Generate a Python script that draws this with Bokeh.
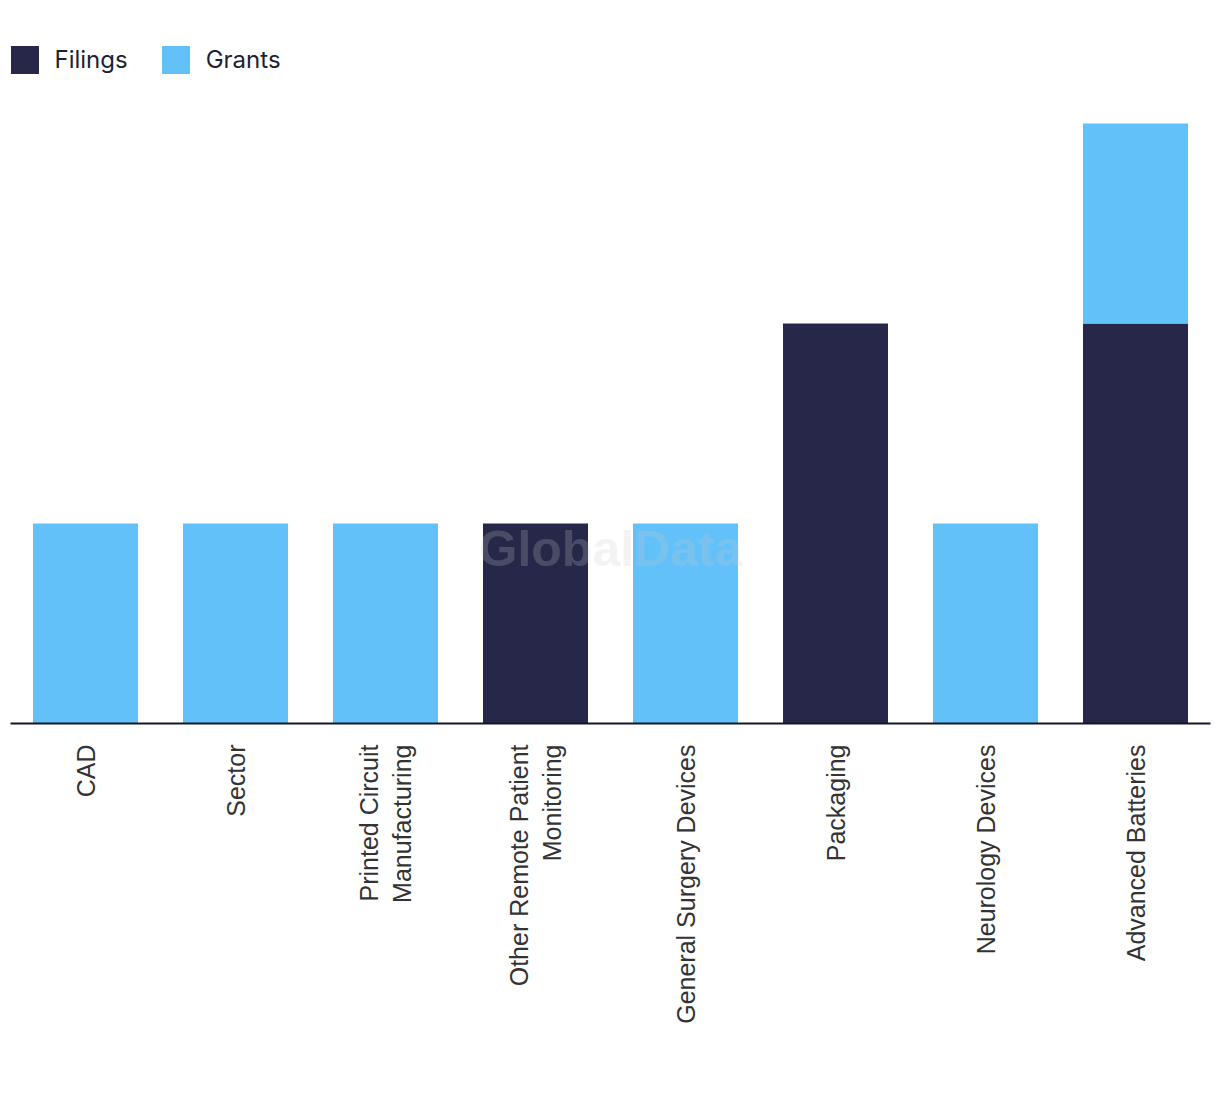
from bokeh.plotting import figure
from bokeh.models import ColumnDataSource, Label, FactorRange
from bokeh.embed import file_html
from bokeh.resources import INLINE
import math

categories = ["CAD", "Sector", "Printed Circuit\nManufacturing",
              "Other Remote Patient\nMonitoring", "General Surgery Devices",
              "Packaging", "Neurology Devices", "Advanced Batteries"]
filings = [0, 0, 0, 1, 0, 2, 0, 2]
grants = [1, 1, 1, 0, 1, 0, 1, 1]
series = ["Filings", "Grants"]
colors = ["#272849", "#63c1f9"]

source = ColumnDataSource(data=dict(cat=categories, Filings=filings, Grants=grants))

FH = 682
p = figure(x_range=FactorRange(*categories, range_padding=0), y_range=(0, FH / 200),
           frame_width=1200, frame_height=FH, output_backend="svg",
           toolbar_location=None, min_border_left=10, min_border_right=2,
           min_border_top=41, min_border_bottom=10)

p.vbar_stack(series, x="cat", width=0.7, source=source, color=colors,
             line_color=None, legend_label=series)

p.yaxis.visible = False
p.xgrid.visible = False
p.ygrid.visible = False
p.outline_line_color = None
p.background_fill_color = None
p.border_fill_color = "white"

ax = p.xaxis[0]
ax.axis_line_color = "#161629"
ax.axis_line_width = 2
ax.major_tick_line_color = None
ax.minor_tick_line_color = None
ax.major_label_orientation = math.pi / 2
ax.major_label_text_font = "Liberation Sans"
ax.major_label_text_font_size = "25px"
ax.major_label_text_color = "#333333"
ax.major_label_standoff = 15

wm = Label(x=600, y=175, x_units="screen", y_units="screen", text="GlobalData",
           text_align="center", text_baseline="middle", text_font="Liberation Sans",
           text_font_style="bold", text_font_size="50px", text_color="#c8c8c8",
           text_alpha=0.22)
p.add_layout(wm)

lg = p.legend[0]
lg.location = (-3.5, FH - 35 - 41.5 + 41)
lg.orientation = "horizontal"
lg.margin = 0
lg.padding = 0
lg.border_line_color = None
lg.background_fill_alpha = 0
lg.glyph_width = 35
lg.glyph_height = 35
lg.label_standoff = 13
lg.spacing = 30
lg.label_text_font = "Inter"
lg.label_text_font_size = "24px"
lg.label_text_color = "#1f1f33"

open("out.html", "w").write(file_html(p, INLINE))
